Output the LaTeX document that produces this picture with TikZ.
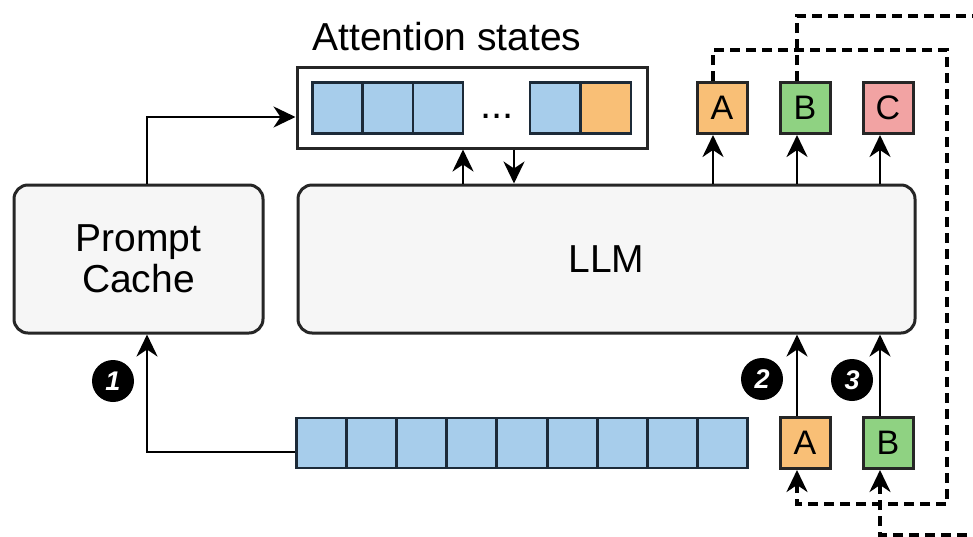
\documentclass[tikz,border=0pt]{standalone}
\usepackage{fontspec}
\setmainfont{Liberation Sans}
\usetikzlibrary{arrows.meta,calc}
\definecolor{cellblue}{HTML}{A7CDEB}
\definecolor{cellorange}{HTML}{F9BF76}
\definecolor{cellgreen}{HTML}{8FD282}
\definecolor{cellred}{HTML}{F2A3A3}
\definecolor{cellline}{HTML}{1C2A38}
\definecolor{boxfill}{HTML}{F6F6F6}
\tikzset{
  bigbox/.style={draw=black!85, line width=3pt, fill=boxfill, rounded corners=14pt, inner sep=0pt, font=\fontsize{39}{45}\selectfont, align=center},
  cell/.style={draw=cellline, line width=2.8pt, fill=cellblue, minimum width=50pt, minimum height=51pt, inner sep=0pt},
  tok/.style={draw=black!85, line width=3pt, minimum width=50pt, minimum height=51pt, inner sep=0pt, font=\fontsize{34}{38}\selectfont},
  arr/.style={line width=2.8pt, -{Stealth[length=22pt,width=21pt,inset=7pt]}},
  dsh/.style={line width=3.2pt, dash pattern=on 10pt off 6pt, -{Stealth[length=22pt,width=21pt,inset=7pt]}},
  num/.style={circle, fill=black, minimum size=42pt, inner sep=0pt, text=white, font=\fontsize{27}{27}\selectfont\bfseries\itshape}
}
\begin{document}
\begin{tikzpicture}[x=1pt,y=-1pt]
\useasboundingbox (0,0) rectangle (973,536);
\clip (0,0) rectangle (973,536);
\fill[white] (0,0) rectangle (973,536);

% main boxes
\node[bigbox, minimum width=249pt, minimum height=148pt] (pc) at (138.5,259) {Prompt\\[-4pt]Cache};
\node[bigbox, minimum width=617pt, minimum height=148pt] (llm) at (606.5,259) {LLM};

% attention states
\node[font=\fontsize{39}{45}\selectfont] (title) at (447,37) {Attention states};
\node[draw=black!85, line width=3pt, fill=white, minimum width=350pt, minimum height=81pt, inner sep=0pt] (att) at (472,107.5) {};
\node[cell] (a1) at (337.5,108) {};
\node[cell] (a2) at (388,108) {};
\node[cell] (a3) at (438,108) {};
\node[font=\fontsize{40}{40}\selectfont, anchor=base, inner sep=0pt] (dots) at (497,118) {...};
\node[cell] (a4) at (555,108) {};
\node[cell, fill=cellorange] (a5) at (606,108) {};

% output tokens
\node[tok, fill=cellorange] (tA) at (722,108) {A};
\node[tok, fill=cellgreen] (tB) at (805,108) {B};
\node[tok, fill=cellred] (tC) at (888,108) {C};

% input tokens
\node[tok, fill=cellorange] (bA) at (805,443) {A};
\node[tok, fill=cellgreen] (bB) at (888,443) {B};

% prompt sequence
\foreach \i in {0,...,8} {
  \node[cell, minimum height=50pt] (s\i) at ({321.1+50.2*\i},443) {};
}

% numbers
\node[num] (n1) at (113,381) {1};
\node[num] (n2) at (762,379) {2};
\node[num] (n3) at (852,380) {3};

% arrows
\draw[arr] ([xshift=8.5pt]pc.north) |- ([yshift=-9.5pt]att.west);
\draw[arr] ([yshift=-9pt]s0.west) -| ([xshift=8.5pt]pc.south);
\draw[arr] ([xshift=-9pt]att.south |- llm.north) -- ([xshift=-9pt]att.south);
\draw[arr] ([xshift=42pt]att.south) -- ([xshift=42pt]att.south |- llm.north);

\draw[arr] ([xshift=-9pt]tA.south |- llm.north) -- ([xshift=-9pt]tA.south);
\draw[arr] ([xshift=-8pt]tB.south |- llm.north) -- ([xshift=-8pt]tB.south);
\draw[arr] ([xshift=-8pt]tC.south |- llm.north) -- ([xshift=-8pt]tC.south);

\draw[arr] ([xshift=-8pt]bA.north) -- ([xshift=-8pt]bA.north |- llm.south);
\draw[arr] ([xshift=-8pt]bB.north) -- ([xshift=-8pt]bB.north |- llm.south);

% feedback loops
\coordinate (la) at (947,50);
\coordinate (lb) at (990,16);
\draw[dsh] ([xshift=-9pt]tA.north) |- (la) |- ([xshift=-8pt,yshift=-34pt]bA.south) -- ([xshift=-8pt]bA.south);
\draw[dsh] ([xshift=-8pt]tB.north) |- (lb) |- ([xshift=-8pt,yshift=-65pt]bB.south) -- ([xshift=-8pt]bB.south);
\end{tikzpicture}
\end{document}
